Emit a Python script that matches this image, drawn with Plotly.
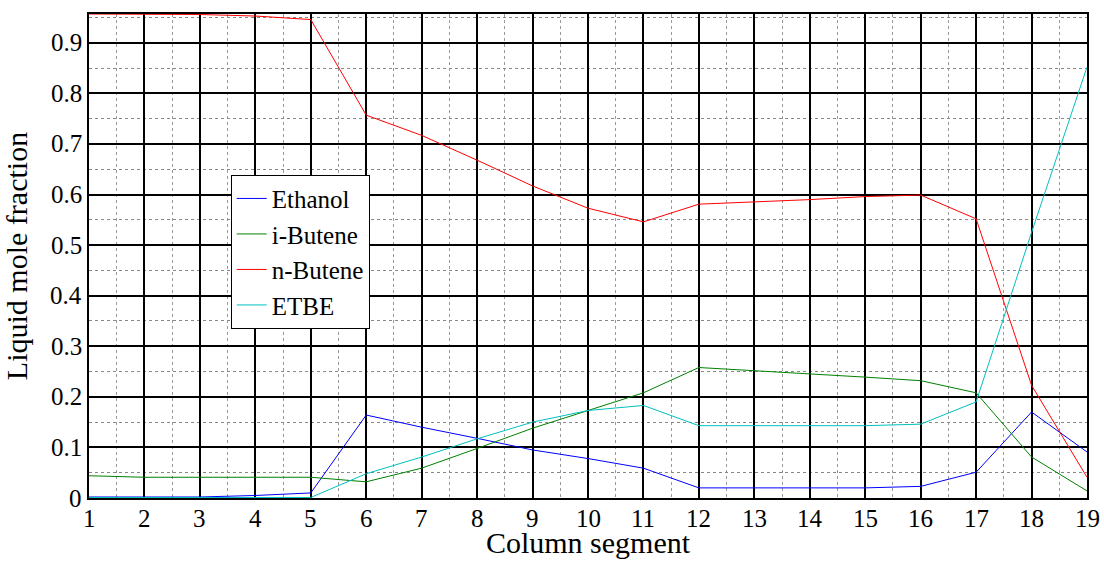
import plotly.graph_objects as go

segments = list(range(1, 20))

ethanol = [0.002, 0.002, 0.002, 0.005, 0.010, 0.164, 0.140, 0.118, 0.095, 0.078,
           0.059, 0.020, 0.020, 0.020, 0.020, 0.023, 0.051, 0.170, 0.091]
i_butene = [0.044, 0.041, 0.041, 0.041, 0.041, 0.032, 0.059, 0.098, 0.138, 0.173,
            0.208, 0.258, 0.252, 0.246, 0.239, 0.232, 0.208, 0.081, 0.014]
n_butene = [0.957, 0.957, 0.956, 0.953, 0.946, 0.757, 0.717, 0.668, 0.617, 0.573,
            0.546, 0.581, 0.585, 0.590, 0.596, 0.599, 0.552, 0.223, 0.041]
etbe = [0.001, 0.001, 0.001, 0.001, 0.001, 0.048, 0.081, 0.117, 0.150, 0.173,
        0.183, 0.143, 0.143, 0.143, 0.143, 0.146, 0.190, 0.525, 0.852]

series = [("Ethanol", ethanol, "#0000ff"),
          ("i-Butene", i_butene, "#008000"),
          ("n-Butene", n_butene, "#ff0000"),
          ("ETBE", etbe, "#00bfbf")]

x_ticks = list(range(1, 20))
x_labels = [str(t) for t in x_ticks]
y_ticks = [0, 0.1, 0.2, 0.3, 0.4, 0.5, 0.6, 0.7, 0.8, 0.9]
y_labels = ["0", "0.1", "0.2", "0.3", "0.4", "0.5", "0.6", "0.7", "0.8", "0.9"]

FONT = "Liberation Serif"

fig = go.Figure()
for name, vals, color in series:
    fig.add_trace(go.Scatter(x=segments, y=vals, mode="lines", name=name,
                             line=dict(color=color, width=1)))

# tick labels drawn as text placed through the axes' own scales
for t, lab in zip(x_ticks, x_labels):
    fig.add_annotation(x=t, xref="x", y=0, yref="paper", text=lab,
                       showarrow=False, xanchor="center", yanchor="middle",
                       yshift=-20)
for t, lab in zip(y_ticks, y_labels):
    fig.add_annotation(x=0, xref="paper", y=t, yref="y", text=lab,
                       showarrow=False, xanchor="right", yanchor="middle",
                       xshift=-5)

fig.update_layout(
    width=1104, height=564,
    margin=dict(l=89, r=17, t=14, b=63),
    paper_bgcolor="white", plot_bgcolor="white",
    font=dict(family=FONT, size=25, color="#000000"),
    showlegend=True,
    legend=dict(x=0.142, y=0.668, xanchor="left", yanchor="top",
                bgcolor="white", bordercolor="black", borderwidth=1,
                tracegroupgap=0),
)

fig.update_xaxes(
    range=[x_ticks[0], x_ticks[-1]], tickmode="array", tickvals=x_ticks,
    showticklabels=False,
    showgrid=True, gridcolor="black", gridwidth=1.5,
    showline=True, linecolor="black", linewidth=1.5, mirror=True,
    zeroline=False, ticks="",
    title=dict(text="Column segment", standoff=33),
    minor=dict(dtick=0.5, tick0=1, showgrid=True, gridcolor="#999999",
               griddash="dot", gridwidth=1),
)
fig.update_yaxes(
    range=[0, 0.957], tickmode="array", tickvals=y_ticks,
    showticklabels=False,
    showgrid=True, gridcolor="black", gridwidth=1.5,
    showline=True, linecolor="black", linewidth=1.5, mirror=True,
    zeroline=False, ticks="",
    title=dict(text="Liquid mole fraction", standoff=52),
    minor=dict(dtick=0.05, tick0=0, showgrid=True, gridcolor="#888888",
               griddash="dot", gridwidth=1),
)

fig.write_html("out.html")
